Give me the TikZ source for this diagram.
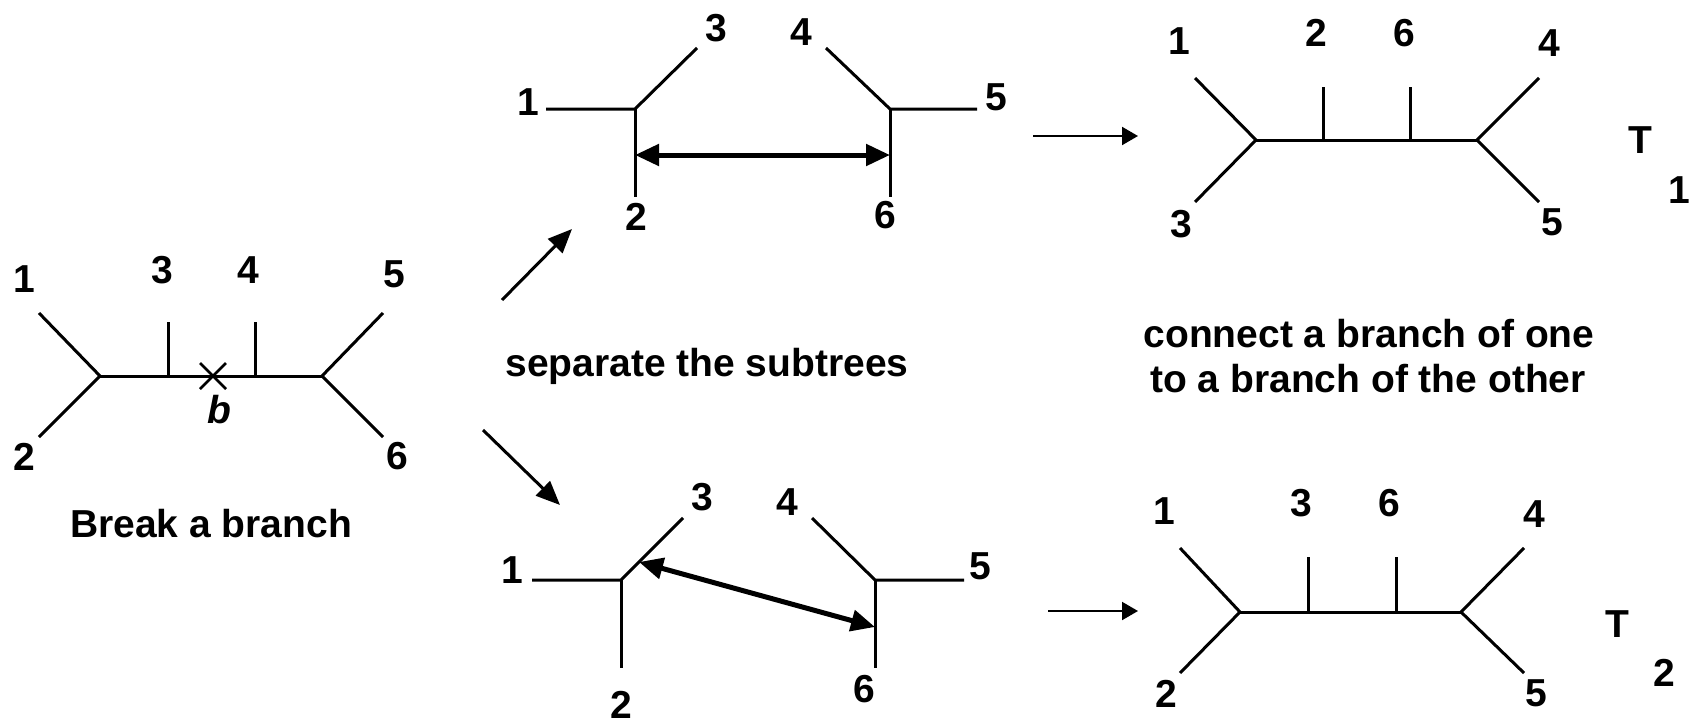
\documentclass[tikz,border=0pt]{standalone}
\usepackage{fontspec}
\setmainfont{Liberation Sans}
\usetikzlibrary{arrows.meta}

\begin{document}
\begin{tikzpicture}[
        x=1pt,
        y=-1pt,
        font=\fontsize{39}{46}\selectfont\bfseries,
        branch/.style={line width=3pt},
        swaparrow/.style={{Triangle[length=24pt,width=21pt]}-{Triangle[length=24pt,width=21pt]}, line width=5pt},
        stagearrow/.style={-{Triangle[length=24pt,width=20pt]}, line width=3pt},
        nextarrow/.style={-{Triangle[length=16pt,width=18pt]}, line width=2pt},
        lab/.style={inner sep=0pt}
    ]
        \useasboundingbox (0,0) rectangle (1692,725);

        \coordinate (Lj) at (100,376);
        \coordinate (Lk) at (322,376);
        \draw[branch] (39,313) -- (Lj) -- (39,437);
        \draw[branch] (Lj) -- (Lk);
        \draw[branch] (383,313) -- (Lk) -- (383,437);
        \draw[branch] (168,322) -- (168,376);
        \draw[branch] (255,322) -- (255,376);
        \coordinate (cut) at (213,376);
        \draw[line width=2.5pt] ([shift={(-13,-13)}]cut) -- ([shift={(13,13)}]cut)
            ([shift={(-13,13)}]cut) -- ([shift={(13,-13)}]cut);
        \foreach \t/\x/\y in {1/24/279,2/24/457,3/162/270,4/248/270,5/394/274,6/397/456} {
            \node[lab] (A\t) at (\x,\y) {\t};
        }
        \node[lab] (bcut) at (219,410) {\itshape b};
        \node[lab] (breaktext) at (211,524) {Break a branch};

        \coordinate (Uj) at (635,109);
        \coordinate (Uk) at (890,109);
        \draw[branch] (546,109) -- (Uj) -- (697,48);
        \draw[branch] (Uj) -- (635,197);
        \draw[branch] (826,48) -- (Uk) -- (977,109);
        \draw[branch] (Uk) -- (890,197);
        \coordinate (Ua) at (635,155);
        \coordinate (Ub) at (890,155);
        \draw[swaparrow] (Ua) -- (Ub);
        \foreach \t/\x/\y in {1/528/102,2/636/217,3/716/28,4/801/32,5/996/97,6/885/215} {
            \node[lab] (U\t) at (\x,\y) {\t};
        }

        \coordinate (Dj) at (621,580);
        \coordinate (Dk) at (875,580);
        \draw[branch] (532,580) -- (Dj) -- (683,518);
        \draw[branch] (Dj) -- (621,668);
        \draw[branch] (812,518) -- (Dk) -- (964,580);
        \draw[branch] (Dk) -- (875,668);
        \coordinate (Da) at (639,562);
        \coordinate (Db) at (875,627);
        \draw[swaparrow] (Da) -- (Db);
        \foreach \t/\x/\y in {1/512/570,2/621/705,3/702/497,4/787/502,5/980/566,6/864/689} {
            \node[lab] (D\t) at (\x,\y) {\t};
        }

        \coordinate (upfrom) at (502,300);
        \coordinate (upto) at (572,229);
        \coordinate (downfrom) at (483,430);
        \coordinate (downto) at (560,505);
        \draw[stagearrow] (upfrom) -- (upto);
        \draw[stagearrow] (downfrom) -- (downto);
        \node[lab, anchor=base] (septext) at (707,376) {separate the subtrees};

        \coordinate (onefrom) at (1033,136);
        \coordinate (oneto) at (1138,136);
        \draw[nextarrow] (onefrom) -- (oneto);
        \coordinate (Pj) at (1256,140);
        \coordinate (Pk) at (1477,140);
        \draw[branch] (1195,78) -- (Pj) -- (1195,202);
        \draw[branch] (Pj) -- (Pk);
        \draw[branch] (1539,78) -- (Pk) -- (1539,202);
        \draw[branch] (1323,87) -- (1323,140);
        \draw[branch] (1410,87) -- (1410,140);
        \foreach \t/\x/\y in {1/1179/41,2/1316/33,3/1181/224,4/1549/43,5/1552/222,6/1404/33} {
            \node[lab] (P\t) at (\x,\y) {\t};
        }
        \node[lab] (Tone) at (1640,140) {T};
        \node[lab] (Tonesub) at (1679,190) {1};

        \node[lab, anchor=base] (conntop) at (1369,347) {connect a branch of one};
        \node[lab, anchor=base] (connbot) at (1368,392) {to a branch of the other};

        \coordinate (twofrom) at (1048,611);
        \coordinate (twoto) at (1138,611);
        \draw[nextarrow] (twofrom) -- (twoto);
        \coordinate (Qj) at (1240,612);
        \coordinate (Qk) at (1461,612);
        \draw[branch] (1180,548) -- (Qj) -- (1180,673);
        \draw[branch] (Qj) -- (Qk);
        \draw[branch] (1524,548) -- (Qk) -- (1524,673);
        \draw[branch] (1308,557) -- (1308,612);
        \draw[branch] (1396,557) -- (1396,612);
        \foreach \t/\x/\y in {1/1164/511,2/1166/694,3/1301/503,4/1534/514,5/1536/693,6/1389/503} {
            \node[lab] (Q\t) at (\x,\y) {\t};
        }
        \node[lab] (Ttwo) at (1617,624) {T};
        \node[lab] (Ttwosub) at (1664,673) {2};
    \end{tikzpicture}
\end{document}
